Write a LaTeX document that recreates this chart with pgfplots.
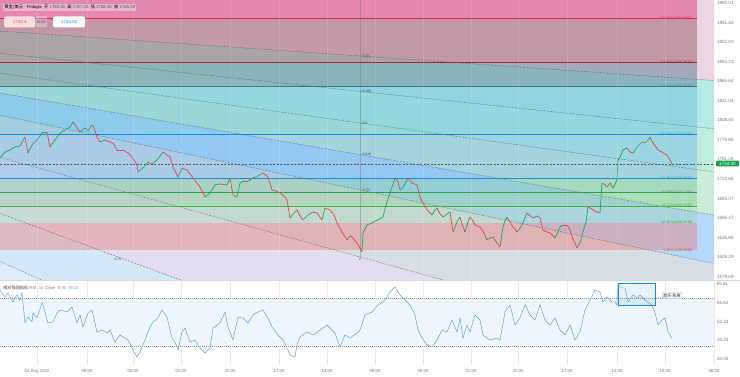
\documentclass[border=0pt]{standalone}
\usepackage{fontspec}
\setmainfont{Liberation Sans}
\newfontfamily\cjk{Noto Sans CJK SC}
\newfontfamily\dejavu{DejaVu Sans}
\usepackage{pgfplots}
\usepackage{pgfplotstable}
\pgfplotsset{compat=1.18}
\definecolor{tickgray}{HTML}{787B86}
\definecolor{candgreen}{HTML}{22A85A}
\definecolor{candred}{HTML}{E0484E}
\definecolor{fanA}{HTML}{C48AB0}
\definecolor{fanB}{HTML}{2EC4B6}
\definecolor{fanC}{HTML}{3CCB9A}
\definecolor{fanD}{HTML}{6CCB8C}
\definecolor{fanE}{HTML}{4AA3F0}
\definecolor{fanF}{HTML}{8FA3B0}
\definecolor{fanG}{HTML}{A898D0}
\definecolor{fanH}{HTML}{7FB8EE}
\definecolor{bA}{HTML}{E05590}
\definecolor{bB}{HTML}{A0606E}
\definecolor{bC}{HTML}{5E7C92}
\definecolor{bD}{HTML}{66BEDB}
\definecolor{bE}{HTML}{62AEEA}
\definecolor{bF}{HTML}{6ABF9A}
\definecolor{bG}{HTML}{7CC88A}
\definecolor{bH}{HTML}{9AD2AA}
\definecolor{bI}{HTML}{E88080}
\definecolor{lA}{HTML}{E91E63}
\definecolor{lB}{HTML}{B0203A}
\definecolor{lC}{HTML}{3A7D8C}
\definecolor{lD}{HTML}{1E88E5}
\definecolor{lF}{HTML}{2E9E4E}
\definecolor{lG}{HTML}{4CAF50}
\definecolor{lI}{HTML}{E05050}
\definecolor{fanline}{HTML}{3E4E5E}
\definecolor{rsiblue}{HTML}{5B9BD5}
\definecolor{annblue}{HTML}{1E88E5}
\definecolor{rsiband}{HTML}{EEF5FC}
\definecolor{pricebox}{HTML}{16A34A}

\pgfplotstableread{
x p m
0 1753.29 1
5 1762.07 1
10 1764.99 1
15 1769.38 1
20 1770.85 1
25 1784.01 0
28 1760.61 1
32 1772.31 1
37 1779.62 1
43 1791.32 1
47 1791.32 0
50 1769.38 1
55 1779.62 1
60 1789.86 1
65 1794.25 1
70 1798.64 1
73 1805.95 0
77 1797.17 0
80 1791.32 1
85 1797.17 0
88 1792.79 1
92 1801.56 1
93 1801.56 0
97 1784.01 0
100 1776.70 1
105 1779.62 0
110 1776.70 0
113 1775.23 0
117 1764.99 0
123 1764.99 0
128 1760.61 0
132 1754.76 0
137 1743.05 0
138 1732.82 1
143 1738.67 1
148 1747.44 0
152 1744.52 1
157 1750.37 1
163 1762.07 0
167 1757.68 0
170 1754.76 0
173 1740.13 0
178 1725.51 1
182 1738.67 0
187 1735.74 0
190 1729.89 0
193 1724.04 0
197 1716.73 0
200 1710.87 0
205 1696.24 1
210 1702.10 1
215 1713.80 1
220 1715.26 0
227 1713.80 1
230 1724.04 0
233 1699.16 0
237 1696.24 1
240 1716.73 1
244 1719.65 0
247 1718.19 1
250 1721.11 1
253 1724.04 1
258 1726.97 1
263 1731.36 0
268 1725.51 0
272 1706.49 0
276 1705.02 0
280 1702.10 0
284 1697.70 0
287 1691.85 0
290 1665.53 1
293 1671.38 1
297 1677.23 0
300 1668.46 0
303 1662.61 1
308 1669.92 1
313 1674.30 0
317 1672.84 0
322 1662.61 1
325 1680.15 0
330 1677.23 0
334 1669.92 0
337 1658.22 0
342 1645.05 0
347 1633.35 1
350 1639.20 0
352 1637.74 0
357 1628.96 0
360 1621.65 0
362 1615.80 1
363 1643.59 1
367 1655.29 1
372 1658.22 1
375 1661.13 1
378 1662.61 1
383 1666.99 1
386 1684.54 1
390 1702.10 1
393 1715.26 1
395 1724.04 0
398 1718.19 0
400 1706.49 1
403 1710.87 1
406 1718.19 1
408 1724.04 0
412 1716.73 0
417 1713.80 0
420 1696.24 0
424 1684.54 0
427 1677.23 0
432 1669.92 1
435 1677.23 1
437 1680.15 0
440 1671.38 0
443 1666.99 1
447 1671.38 1
450 1674.30 0
453 1645.05 1
457 1659.67 1
460 1666.99 0
462 1656.75 0
465 1645.05 1
468 1659.67 1
470 1666.99 0
473 1661.13 0
475 1655.29 0
480 1652.37 0
484 1643.59 0
487 1633.35 1
490 1636.28 1
493 1637.74 0
497 1628.96 0
500 1623.11 1
503 1652.37 1
505 1661.13 1
507 1666.99 0
510 1659.67 0
513 1652.37 0
517 1645.05 1
520 1650.90 1
523 1658.22 1
527 1672.84 0
530 1668.46 0
533 1665.53 1
537 1668.46 0
540 1665.53 0
543 1647.98 0
547 1645.05 0
550 1643.59 0
555 1636.28 1
558 1645.05 1
560 1652.37 1
563 1655.29 0
567 1655.29 0
570 1647.98 0
572 1637.74 0
575 1628.96 0
577 1621.65 1
580 1628.96 1
583 1645.05 1
586 1659.67 1
588 1681.62 0
590 1680.15 0
593 1677.23 0
597 1674.30 0
600 1672.84 1
602 1716.73 0
605 1713.80 0
607 1710.87 1
610 1716.73 0
613 1709.41 1
617 1721.11 1
618 1750.37 1
620 1754.76 1
623 1764.99 1
627 1767.92 0
630 1762.07 0
633 1760.61 1
637 1769.38 1
640 1773.77 1
642 1776.70 0
645 1775.23 1
648 1779.62 1
650 1784.01 0
653 1775.23 0
656 1769.38 0
658 1764.99 0
662 1762.07 0
665 1759.14 0
667 1757.68 0
670 1750.37 0
672 1744.40 0
}\pricedata

\pgfplotstableread{
x v
0 76.29
5 70.55
8 73.83
13 66.44
17 72.19
20 68.08
22 73.83
25 49.20
28 54.12
32 50.02
33 57.41
37 53.30
42 65.62
43 63.98
48 49.20
53 50.02
57 57.41
60 59.87
67 58.23
72 62.33
77 49.20
80 55.76
83 45.91
88 57.41
92 59.87
97 41.81
102 43.45
107 40.99
110 43.45
115 33.60
120 39.34
123 37.70
128 35.24
133 27.03
137 21.29
140 25.39
145 35.24
150 45.91
153 50.02
158 53.30
162 59.87
167 54.12
172 36.88
175 33.60
178 27.03
182 41.81
185 45.09
190 33.60
195 35.24
200 28.67
205 24.57
210 28.67
213 45.09
220 49.20
225 58.23
228 45.91
233 35.24
238 54.12
243 53.30
248 49.20
253 55.76
258 58.23
263 59.87
268 53.30
272 45.91
278 39.34
283 35.24
287 28.67
290 22.93
295 21.29
297 31.14
300 37.70
307 41.81
313 39.34
320 43.45
327 47.56
335 40.99
340 29.49
345 39.34
350 36.88
357 40.99
360 43.45
365 55.76
372 58.23
378 63.98
385 68.08
390 74.65
395 78.76
400 72.19
405 68.08
410 63.98
415 55.76
418 43.45
422 36.88
427 31.14
432 29.49
437 35.24
442 43.45
447 41.81
452 51.66
457 41.81
460 53.30
463 36.88
467 47.56
470 41.81
475 55.76
480 51.66
483 39.34
490 35.24
497 36.88
500 35.24
505 58.23
510 63.98
515 47.56
520 53.30
525 63.98
530 55.76
535 51.66
540 63.98
545 51.66
550 47.56
555 53.30
560 43.45
565 39.34
570 47.56
575 35.24
580 41.81
585 59.87
590 68.08
595 76.29
600 74.65
603 66.44
607 70.55
612 66.44
615 66.44
617 63.98
618 80.40
622 77.93
625 77.93
628 66.44
633 72.19
638 69.72
640 72.19
645 68.08
648 66.44
652 63.98
655 57.41
658 47.56
662 51.66
665 53.30
668 41.81
672 36.88
}\rsidata

\begin{document}
\begin{tikzpicture}[font=\fontsize{5}{6}\selectfont]
\useasboundingbox (0,0) rectangle (740bp,377bp);
\fill[white] (0,0) rectangle (740bp,377bp);

% ---------------- main price panel ----------------
\begin{axis}[
  at={(0bp,97bp)}, anchor=south west, scale only axis,
  width=714bp, height=280bp,
  xmin=0, xmax=714, ymin=1574.84, ymax=1984.40,
  axis line style={draw=none}, major tick length=0pt,
  axis on top,
  xtick={37,87,133,181,230,279,327,375,423,471,518,567,617,665,714},
  xticklabels={},
  xmajorgrids, grid style={white, line width=0.3pt, opacity=0.12},
  ytick={1980.01,1951.42,1922.83,1894.23,1865.64,1837.04,1808.45,1779.85,1751.26,1722.66,1694.07,1665.47,1636.88,1608.29,1579.69},
  yticklabels={1980.01,1951.42,1922.83,1894.23,1865.64,1837.04,1808.45,1779.85,1751.26,1722.66,1694.07,1665.47,1636.88,1608.29,1579.69},
  yticklabel pos=right,
  yticklabel style={font=\fontsize{4.6}{5}\selectfont, text=tickgray, xshift=-0.5bp},
  colormap={ud}{color(0)=(candred) color(1)=(candgreen)},
]
% fan fills
\addplot[fill=fanA, fill opacity=0.35, draw=none] coordinates {(-10,2000.5) (730,2000.5) (730,1865.0) (-10,1940.0)} -- cycle;
\addplot[fill=fanB, fill opacity=0.35, draw=none] coordinates {(-10,1940.0) (730,1865.0) (730,1793.5) (-10,1908.0)} -- cycle;
\addplot[fill=fanC, fill opacity=0.33, draw=none] coordinates {(-10,1908.0) (730,1793.5) (730,1729.6) (-10,1879.4)} -- cycle;
\addplot[fill=fanD, fill opacity=0.35, draw=none] coordinates {(-10,1879.4) (730,1729.6) (730,1665.6) (-10,1850.8)} -- cycle;
\addplot[fill=fanE, fill opacity=0.42, draw=none] coordinates {(-10,1850.8) (730,1665.6) (730,1594.1) (-10,1818.9)} -- cycle;
\addplot[fill=fanF, fill opacity=0.35, draw=none] coordinates {(-10,1818.9) (730,1594.1) (730,1458.7) (-10,1758.3)} -- cycle;
\addplot[fill=fanG, fill opacity=0.32, draw=none] coordinates {(-10,1758.3) (730,1458.7) (730,1278.1) (-10,1677.6)} -- cycle;
\addplot[fill=fanH, fill opacity=0.32, draw=none] coordinates {(-10,1677.6) (730,1278.1) (730,1123.7) (-10,1608.6)} -- cycle;
\addplot[fill=fanH, fill opacity=0.25, draw=none] coordinates {(-10,1608.6) (730,1123.7) (730,1000) (-10,1000)} -- cycle;
% fib retracement bands
\addplot[fill=bA, fill opacity=0.60, draw=none] coordinates {(-10,1957.60) (697,1957.60) (697,2000) (-10,2000)} -- cycle;
\addplot[fill=bB, fill opacity=0.52, draw=none] coordinates {(-10,1892.79) (697,1892.79) (697,1957.60) (-10,1957.60)} -- cycle;
\addplot[fill=bC, fill opacity=0.50, draw=none] coordinates {(-10,1858.18) (697,1858.18) (697,1892.79) (-10,1892.79)} -- cycle;
\addplot[fill=bD, fill opacity=0.48, draw=none] coordinates {(-10,1787.95) (697,1787.95) (697,1858.18) (-10,1858.18)} -- cycle;
\addplot[fill=bE, fill opacity=0.38, draw=none] coordinates {(-10,1723.11) (697,1723.11) (697,1787.95) (-10,1787.95)} -- cycle;
\addplot[fill=bF, fill opacity=0.40, draw=none] coordinates {(-10,1703.13) (697,1703.13) (697,1723.11) (-10,1723.11)} -- cycle;
\addplot[fill=bG, fill opacity=0.40, draw=none] coordinates {(-10,1683.11) (697,1683.11) (697,1703.13) (-10,1703.13)} -- cycle;
\addplot[fill=bH, fill opacity=0.35, draw=none] coordinates {(-10,1658.34) (697,1658.34) (697,1683.11) (-10,1683.11)} -- cycle;
\addplot[fill=bI, fill opacity=0.45, draw=none] coordinates {(-10,1618.30) (697,1618.30) (697,1658.34) (-10,1658.34)} -- cycle;
% fan box edge
\addplot[gray, opacity=0.5, line width=0.3pt] coordinates {(360,1990) (360,1608.5)};
% fan lines
\addplot[fanline, opacity=0.75, line width=0.35pt, dash pattern=on 2bp off 1.2bp] coordinates {(-10,1940.0) (730,1865.0)};
\addplot[fanline, opacity=0.75, line width=0.35pt, dash pattern=on 2bp off 1.2bp] coordinates {(-10,1908.0) (730,1793.5)};
\addplot[fanline, opacity=0.75, line width=0.35pt, dash pattern=on 2bp off 1.2bp] coordinates {(-10,1879.4) (730,1729.6)};
\addplot[fanline, opacity=0.75, line width=0.35pt, dash pattern=on 2bp off 1.2bp] coordinates {(-10,1850.8) (730,1665.6)};
\addplot[fanline, opacity=0.75, line width=0.35pt, dash pattern=on 2bp off 1.2bp] coordinates {(-10,1818.9) (730,1594.1)};
\addplot[fanline, opacity=0.75, line width=0.35pt, dash pattern=on 2bp off 1.2bp] coordinates {(-10,1758.3) (730,1458.7)};
\addplot[fanline, opacity=0.75, line width=0.35pt, dash pattern=on 2bp off 1.2bp] coordinates {(-10,1677.6) (730,1278.1)};
\addplot[fanline, opacity=0.75, line width=0.35pt, dash pattern=on 2bp off 1.2bp] coordinates {(-10,1608.6) (730,1123.7)};
% fib lines
\addplot[lA, line width=0.5pt] coordinates {(-10,1957.60) (697,1957.60)};
\addplot[lB, line width=0.5pt] coordinates {(-10,1892.79) (697,1892.79)};
\addplot[lC, line width=0.5pt] coordinates {(-10,1858.18) (697,1858.18)};
\addplot[lD, line width=0.6pt] coordinates {(-10,1787.95) (697,1787.95)};
\addplot[lD, line width=1.3pt] coordinates {(-10,1723.11) (697,1723.11)};
\addplot[lF, line width=0.5pt] coordinates {(-10,1703.13) (697,1703.13)};
\addplot[lG, line width=0.5pt] coordinates {(-10,1683.11) (697,1683.11)};
% current price line
\addplot[gray!70!black, line width=0.35pt, dash pattern=on 2bp off 1.5bp] coordinates {(0,1744.40) (714,1744.40)};
% price
\addplot[mesh, shader=flat corner, point meta=\thisrow{m}, line width=0.7pt] table[x=x, y=p] {\pricedata};
% fib labels
\begin{scope}[every node/.style={font=\fontsize{3.5}{4}\selectfont, anchor=east, inner sep=0.5pt}]
\node[text=lA] at (axis cs:693,1957.60) {200.00\%(1957.6000)};
\node[text=lB] at (axis cs:693,1892.79) {161.80\%(1892.7870)};
\node[text=lC] at (axis cs:693,1858.18) {141.40\%(1858.1810)};
\node[text=lD] at (axis cs:693,1787.95) {100.00\%(1787.9500)};
\node[text=lD] at (axis cs:693,1723.11) {61.80\%(1723.1070)};
\node[text=lF] at (axis cs:693,1703.13) {50.00\%(1703.1250)};
\node[text=lG] at (axis cs:693,1683.11) {38.20\%(1683.1130)};
\node[text=lF] at (axis cs:693,1658.34) {23.60\%(1658.3370)};
\node[text=lI] at (axis cs:693,1618.30) {0.00\%(1618.3000)};
\end{scope}
% fan labels
\begin{scope}[every node/.style={font=\fontsize{3.5}{4}\selectfont, text=black!70, inner sep=0.5pt}]
\node[anchor=west] at (axis cs:362,1902.5) {0.25};
\node[anchor=west] at (axis cs:362,1850.8) {0.382};
\node[anchor=west] at (axis cs:362,1804.5) {0.5};
\node[anchor=west] at (axis cs:362,1758.2) {0.618};
\node[anchor=west] at (axis cs:362,1706.5) {0.75};
\node[anchor=north] at (axis cs:360,1608.5) {1};
\node[anchor=north] at (axis cs:118,1608.5) {0.75};
\end{scope}
\end{axis}

% ---------------- RSI panel ----------------
\begin{axis}[
  at={(0bp,12bp)}, anchor=south west, scale only axis,
  width=714bp, height=85bp,
  xmin=0, xmax=714, ymin=14.7, ymax=84.5,
  axis line style={draw=none}, major tick length=0pt,
  xtick={37,87,133,181,230,279,327,375,423,471,518,567,617,665,714},
  xticklabels={04 Aug 2022,09:00,05:00,01:00,21:00,17:00,13:00,09:00,05:00,01:00,21:00,17:00,14:00,10:00,06:00},
  xticklabel style={font=\fontsize{4.4}{5}\selectfont, text=tickgray, yshift=-0.5bp},
  xmajorgrids, grid style={black!8, line width=0.3pt},
  ytick={65.62,50.43,35.24,20.05},
  yticklabels={65.62,50.43,35.24,20.05},
  yticklabel pos=right,
  yticklabel style={font=\fontsize{4.6}{5}\selectfont, text=tickgray, xshift=-0.5bp},
  clip=false,
]
\addplot[fill=rsiband, draw=none] coordinates {(0,30) (714,30) (714,70) (0,70)} -- cycle;
\addplot[tickgray!80, line width=0.3pt, dash pattern=on 1bp off 1bp] coordinates {(0,70) (714,70)};
\addplot[tickgray!80, line width=0.3pt, dash pattern=on 1bp off 1bp] coordinates {(0,30) (714,30)};
\addplot[draw=annblue, line width=0.9pt, fill=annblue, fill opacity=0.10] coordinates {(618,82.0) (655,82.0) (655,63.2) (618,63.2)} -- cycle;
\addplot[rsiblue, line width=0.45pt] table[x=x, y=v] {\rsidata};
\node[draw=black!25, fill=white, rounded corners=1pt, inner sep=1.2pt, font=\cjk\fontsize{4.3}{5}\selectfont, text=black!80] at (axis cs:672,71.8) {超买背离};
\node[anchor=west, inner sep=0pt, font=\fontsize{4.2}{5}\selectfont, text=black!75] at (axis cs:3,77.9) {{\cjk 相对强弱指标} \textcolor{tickgray}{RSI\ \ 14 Close\ \ {\dejavu ⊙\ ⊟}}\ \ \textcolor{rsiblue}{59.31}};
\node[anchor=west, inner sep=0pt, font=\fontsize{4.6}{5}\selectfont, text=tickgray] at (axis cs:716.5,81.2) {85.81};
\end{axis}

% panel separator
\draw[black!15, line width=0.4pt] (0,97bp) -- (740bp,97bp);

% header
\node[anchor=west, fill=white, fill opacity=0.35, text opacity=1, inner sep=1.2pt, font=\fontsize{4.3}{5}\selectfont] at (3bp,369.5bp)
 {{\cjk 黄金/美元} · Finlogix\ \ {\cjk 开}\ \textcolor{candgreen!80!black}{1760.26}\ \ {\cjk 高}\ \textcolor{candgreen!80!black}{1767.25}\ \ {\cjk 低}\ \textcolor{candgreen!80!black}{1758.30}\ \ {\cjk 收}\ \textcolor{candgreen!80!black}{1765.09}};
\node[anchor=west, fill=red!12, rounded corners=1.5pt, text=candred, minimum height=11bp, minimum width=31bp, inner sep=1pt, font=\fontsize{4.5}{5}\selectfont] at (4bp,355bp) {1744.4};
\node[anchor=west, fill=white, fill opacity=0.3, text opacity=1, text=black!75, minimum height=11bp, inner sep=1pt, font=\fontsize{4.5}{5}\selectfont] at (36bp,355bp) {0.12};
\node[anchor=west, fill=white, rounded corners=1.5pt, text=lD, minimum height=11bp, minimum width=32bp, inner sep=1pt, font=\fontsize{4.5}{5}\selectfont] at (53bp,355bp) {1744.52};

% current price box
\node[fill=pricebox, text=white, rounded corners=1pt, inner sep=1.2pt, minimum width=23bp, font=\fontsize{4.6}{5}\selectfont] at (727.5bp,213.5bp) {1744.40};
\end{tikzpicture}
\end{document}
